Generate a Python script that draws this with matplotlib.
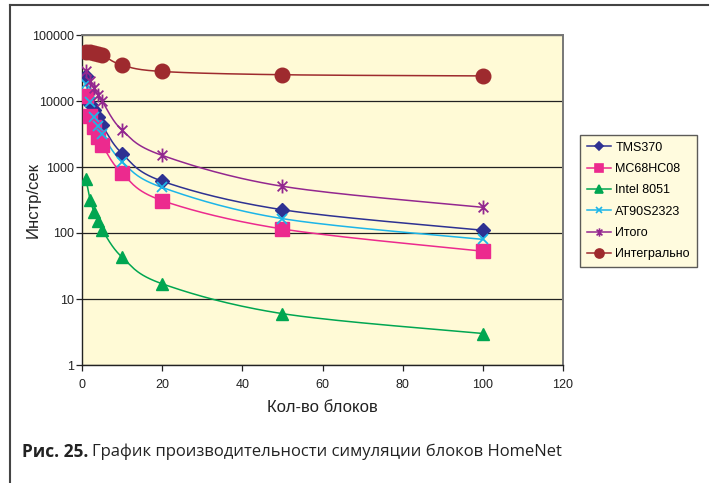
import numpy as np
import matplotlib
matplotlib.use("Agg")
import matplotlib.pyplot as plt
from matplotlib.path import Path
from matplotlib.lines import Line2D

# ---- data ----
blocks = [1, 2, 3, 4, 5, 10, 20, 50, 100]
tms370 = [24000, 9000, 7200, 5700, 4300, 1600, 610, 225, 110]
mc68hc08 = [12000, 6000, 4000, 2800, 2150, 800, 310, 115, 53]
intel8051 = [650, 320, 210, 150, 112, 43, 17, 6, 3]
at90s2323 = [18000, 9500, 5800, 4200, 3200, 1200, 490, 165, 80]
itogo = [28000, 20000, 15500, 12300, 10000, 3600, 1500, 510, 245]
integral = [56000, 55000, 54000, 52000, 50000, 35000, 28000, 25000, 24000]

series_names = ["TMS370", "MC68HC08", "Intel 8051", "AT90S2323", "Итого", "Интегрально"]
series_vals = [tms370, mc68hc08, intel8051, at90s2323, itogo, integral]

colors = ["#2E3192", "#EC2A8E", "#00A651", "#1CB5E8", "#93278F", "#9E2A2E"]

# star marker (X + vertical line)
star_path = Path(
    [(-0.7, -0.7), (0.7, 0.7), (-0.7, 0.7), (0.7, -0.7), (0, -1), (0, 1)],
    [Path.MOVETO, Path.LINETO, Path.MOVETO, Path.LINETO, Path.MOVETO, Path.LINETO])

markers = ["D", "s", "^", "x", star_path, "o"]
msizes = [7.5, 9.5, 9, 7, 10, 10.5]
legend_ms = [4.5, 6, 5.5, 5, 6, 6.5]

W, H = 712, 483
plt.rcParams['font.family'] = ['Liberation Sans', 'DejaVu Sans']
fig = plt.figure(figsize=(W / 100, H / 100), dpi=100)

ax = fig.add_axes([82 / W, 1 - 365 / H, (563 - 82) / W, (365 - 35) / H])
ax.set_facecolor("#FFFAD6")


def smooth(xs, ys, n=30):
    # Catmull-Rom style smoothing in display-like space (x linear, log y)
    u = np.asarray(xs, float) * 4.0
    v = np.log10(np.asarray(ys, float)) * 66.0
    P = np.column_stack([u, v])
    P = np.vstack([P[0], P, P[-1]])
    out = []
    t = np.linspace(0, 1, n)
    for i in range(1, len(P) - 2):
        p0, p1, p2, p3 = P[i - 1], P[i], P[i + 1], P[i + 2]
        b1 = p1 + (p2 - p0) / 6
        b2 = p2 - (p3 - p1) / 6
        seg = ((1 - t) ** 3)[:, None] * p1 + (3 * (1 - t) ** 2 * t)[:, None] * b1 + \
              (3 * (1 - t) * t ** 2)[:, None] * b2 + (t ** 3)[:, None] * p2
        out.append(seg)
    S = np.vstack(out)
    return S[:, 0] / 4.0, 10 ** (S[:, 1] / 66.0)


handles = []
for name, vals, c, m, ms, lms in zip(series_names, series_vals, colors, markers, msizes, legend_ms):
    sx, sy = smooth(blocks, vals)
    ax.plot(sx, sy, color=c, lw=1.1, zorder=3)
    if m in ("x",) or m is star_path:
        ax.plot(blocks, vals, ls="none", marker=m, ms=ms, mec=c, mew=1.3, zorder=4)
    else:
        ax.plot(blocks, vals, ls="none", marker=m, ms=ms, mfc=c, mec=c, zorder=4)
    handles.append(Line2D([], [], color=c, lw=1.1, marker=m, ms=lms, mfc=c, mec=c, mew=1.2))

ax.set_yscale("log")
ax.set_ylim(1, 100000)
ax.set_xlim(0, 120)
ax.set_xticks([0, 20, 40, 60, 80, 100, 120])
ax.set_yticks([1, 10, 100, 1000, 10000, 100000])
ax.set_yticklabels(["1", "10", "100", "1000", "10000", "100000"])
ax.yaxis.set_minor_locator(matplotlib.ticker.NullLocator())
ax.grid(axis="y", which="major", color="#222222", lw=0.9)
ax.set_axisbelow(True)
ax.tick_params(axis="both", direction="out", length=4, width=0.9, labelsize=9, colors="#222222", pad=2)
ax.tick_params(axis="x", pad=6)
for s in ["left", "bottom"]:
    ax.spines[s].set_color("#222222")
    ax.spines[s].set_linewidth(1.0)
for s in ["top", "right"]:
    ax.spines[s].set_color("#777777")
    ax.spines[s].set_linewidth(1.4)

fig.text(33 / W, 1 - 200 / H, "Инстр/сек", rotation=90, ha="center", va="center", fontsize=12, color="#222222")
fig.text(322 / W, 1 - 408 / H, "Кол-во блоков", ha="center", va="center", fontsize=12, color="#222222")

leg = fig.legend(handles, series_names, loc="center",
                 bbox_to_anchor=((582 + 695) / 2 / W, 1 - 201 / H),
                 fontsize=9, frameon=True, handlelength=1.9, handletextpad=0.35,
                 labelspacing=0.75, borderpad=0.55, borderaxespad=0, fancybox=False)
leg.get_frame().set_facecolor("#FFFAD6")
leg.get_frame().set_edgecolor("#333333")
leg.get_frame().set_linewidth(1.0)

# outer frame lines
fig.add_artist(Line2D([10 / W, 708 / W], [1 - 5 / H, 1 - 5 / H], color="#444444", lw=1.5))
fig.add_artist(Line2D([10 / W, 10 / W], [0, 1 - 5 / H], color="#444444", lw=1.5))

# caption
cap_y = 1 - 452 / H
t1 = fig.text(22 / W, cap_y, "Рис. 25.", fontsize=12.5, fontweight="bold", ha="left", va="center",
              family=["Open Sans", "DejaVu Sans"], color="#222222")
fig.canvas.draw()
bb = t1.get_window_extent()
fig.text((bb.x1 + 4) / W, cap_y, "График производительности симуляции блоков HomeNet", fontsize=12,
         ha="left", va="center", family=["Open Sans", "DejaVu Sans"], color="#222222")

fig.savefig("out.png", dpi=100)
